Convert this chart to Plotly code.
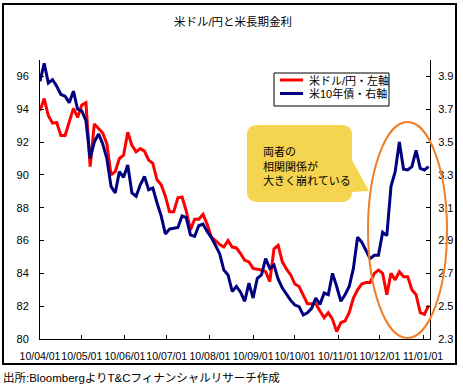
import pandas as pd
import plotly.graph_objects as go

# ---- data (every 3 calendar days from 2010-04-01) ----
usdjpy = [93.9, 94.65, 93.6, 93.15, 93.2, 92.4, 92.4, 93.3, 94.05, 93.5,
          94.25, 94.4, 90.5, 93.1, 92.8, 92.55, 91.9, 90.0, 90.2, 91.0,
          91.2, 92.6, 91.8, 91.4, 91.6, 91.45, 90.9, 90.7, 89.7, 89.4,
          88.7, 87.75, 87.75, 88.6, 88.65, 87.8, 86.65, 87.3, 87.3, 87.6,
          87.0, 86.2, 86.0, 85.75, 85.6, 86.0, 85.6, 85.55, 85.2, 84.8,
          84.7, 84.3, 84.25, 84.2, 84.1, 83.5, 85.5, 85.7, 84.7, 84.25,
          83.9, 83.35, 83.2, 82.7, 82.15, 82.15, 82.15, 81.7, 81.3, 81.6,
          81.2, 80.45, 81.0, 81.1, 81.6, 82.5, 83.0, 83.35, 83.45, 83.45,
          84.0, 84.2, 84.0, 82.7, 84.0, 83.6, 84.1, 83.8, 83.8, 83.0,
          82.7, 81.6, 81.5, 82.05]
ust10y = [3.87, 3.98, 3.86, 3.88, 3.84, 3.79, 3.78, 3.74, 3.81, 3.70,
          3.69, 3.63, 3.40, 3.50, 3.55, 3.49, 3.40, 3.23, 3.19, 3.32,
          3.285, 3.36, 3.19, 3.17, 3.24, 3.29, 3.21, 3.22, 3.13, 3.05,
          2.94, 2.97, 2.975, 2.98, 3.05, 3.04, 2.935, 2.925, 2.99, 3.0,
          2.955, 2.92, 2.87, 2.82, 2.72, 2.69, 2.59, 2.62, 2.585, 2.53,
          2.64, 2.55, 2.67, 2.69, 2.79, 2.73, 2.75, 2.665, 2.61, 2.57,
          2.535, 2.507, 2.497, 2.446, 2.46, 2.487, 2.55, 2.51, 2.58, 2.57,
          2.70, 2.62, 2.53, 2.57, 2.62, 2.73, 2.92, 2.89, 2.835, 2.79,
          2.81, 2.81, 2.95, 2.93, 3.23, 3.32, 3.50, 3.335, 3.33, 3.35,
          3.45, 3.34, 3.33, 3.35]
dates = pd.date_range("2010-04-01", periods=len(usdjpy), freq="3D")

series_names = ["米ドル/円・左軸", "米10年債・右軸"]
series_colors = ["#FF0000", "#000080"]

tick_dates = ["2010-04-01", "2010-05-01", "2010-06-01", "2010-07-01", "2010-08-01",
              "2010-09-01", "2010-10-01", "2010-11-01", "2010-12-01", "2011-01-01"]
tick_labels = ["10/04/01", "10/05/01", "10/06/01", "10/07/01", "10/08/01",
               "10/09/01", "10/10/01", "10/11/01", "10/12/01", "11/01/01"]

W, H = 463, 388
L, R, T, B = 40, 430, 60, 339


def px(x):
    return (x - L) / (R - L)


def py(y):
    return (B - y) / (B - T)


FONT = "Liberation Sans, Arial, Noto Sans CJK JP"

fig = go.Figure()
fig.add_trace(go.Scatter(x=dates, y=usdjpy, name=series_names[0], mode="lines",
                         line=dict(color=series_colors[0], width=3), showlegend=False))
fig.add_trace(go.Scatter(x=dates, y=ust10y, name=series_names[1], mode="lines",
                         line=dict(color=series_colors[1], width=3), yaxis="y2",
                         showlegend=False))


def P(x, y):
    return f"{px(x):.5f},{py(y):.5f}"


r = 10
x0, x1, y0, y1 = 247, 352, 125, 202
path = (f"M {P(x0+r, y0)} L {P(x1-r, y0)} Q {P(x1, y0)} {P(x1, y0+r)} "
        f"L {P(x1, 160)} L {P(369, 191)} L {P(x1, 192)} "
        f"Q {P(x1, y1)} {P(x1-r, y1)} L {P(x0+r, y1)} Q {P(x0, y1)} {P(x0, y1-r)} "
        f"L {P(x0, y0+r)} Q {P(x0, y0)} {P(x0+r, y0)} Z")

shapes = [
    dict(type="rect", xref="paper", yref="paper", x0=px(3), x1=px(456), y0=py(4), y1=py(364),
         line=dict(color="black", width=2), fillcolor="rgba(0,0,0,0)", layer="below"),
    dict(type="path", xref="paper", yref="paper", path=path, fillcolor="#F5D44F",
         line=dict(width=0), layer="above"),
    dict(type="circle", xref="paper", yref="paper", x0=px(368), x1=px(447), y0=py(338), y1=py(122),
         line=dict(color="#F07E26", width=2), layer="above"),
    # legend box
    dict(type="rect", xref="paper", yref="paper", x0=px(274), x1=px(389), y0=py(106), y1=py(73),
         line=dict(color="black", width=1), fillcolor="white", layer="above"),
]

annotations = []
for i, (nm, col) in enumerate(zip(series_names, series_colors)):
    yy = 80 + i * 13.5
    shapes.append(dict(type="line", xref="paper", yref="paper", x0=px(280), x1=px(303),
                       y0=py(yy), y1=py(yy), line=dict(color=col, width=3), layer="above"))
    annotations.append(dict(text=nm, x=px(307), y=py(yy), xref="paper", yref="paper",
                            xanchor="left", yanchor="middle", showarrow=False,
                            font=dict(size=11, color="black")))

for txt, yy in [("両者の", 152), ("相関関係が", 166), ("大きく崩れている", 180)]:
    annotations.append(dict(text=txt, x=px(261), y=py(yy), xref="paper", yref="paper",
                            xanchor="left", yanchor="middle", showarrow=False,
                            font=dict(size=11, color="black")))

annotations.append(dict(text="出所:BloombergよりT&Cフィナンシャルリサーチ作成", x=px(1), y=py(378),
                        xref="paper", yref="paper", xanchor="left", yanchor="middle",
                        showarrow=False, font=dict(size=11.5, color="black")))

fig.update_layout(
    width=W, height=H,
    margin=dict(l=L, r=W - R, t=T, b=H - B, pad=0, autoexpand=False),
    paper_bgcolor="white", plot_bgcolor="white",
    font=dict(family=FONT, size=11, color="black"),
    title=dict(text="米ドル/円と米長期金利", x=px(233), xanchor="center",
               y=1 - 22 / H, yanchor="middle", yref="container", xref="paper",
               font=dict(size=11.5, color="black")),
    showlegend=False,
    xaxis=dict(type="date", range=["2010-04-01", "2011-01-06"], tickvals=tick_dates,
               ticktext=tick_labels, tickangle=0, automargin=False,
               showline=True, linecolor="black", linewidth=1,
               ticks="inside", ticklen=4, tickcolor="black", showgrid=False, zeroline=False,
               ticklabelstandoff=7, tickfont=dict(size=10.5)),
    yaxis=dict(range=[80, 97], tick0=80, dtick=2, showline=True, linecolor="black",
               linewidth=1, ticks="inside", ticklen=4, tickcolor="black", showgrid=False,
               zeroline=False, ticklabelstandoff=8, tickfont=dict(size=11), automargin=False),
    yaxis2=dict(range=[2.3, 4.0], tick0=2.3, dtick=0.2, tickformat=".1f", overlaying="y",
                side="right", showline=True, linecolor="black", linewidth=1, ticks="inside",
                ticklen=4, tickcolor="black", showgrid=False, zeroline=False,
                ticklabelstandoff=5, tickfont=dict(size=11), automargin=False),
    shapes=shapes,
    annotations=annotations,
)

fig.write_html("out.html", config={"displayModeBar": False},
               post_script="document.body.style.margin='0';")
